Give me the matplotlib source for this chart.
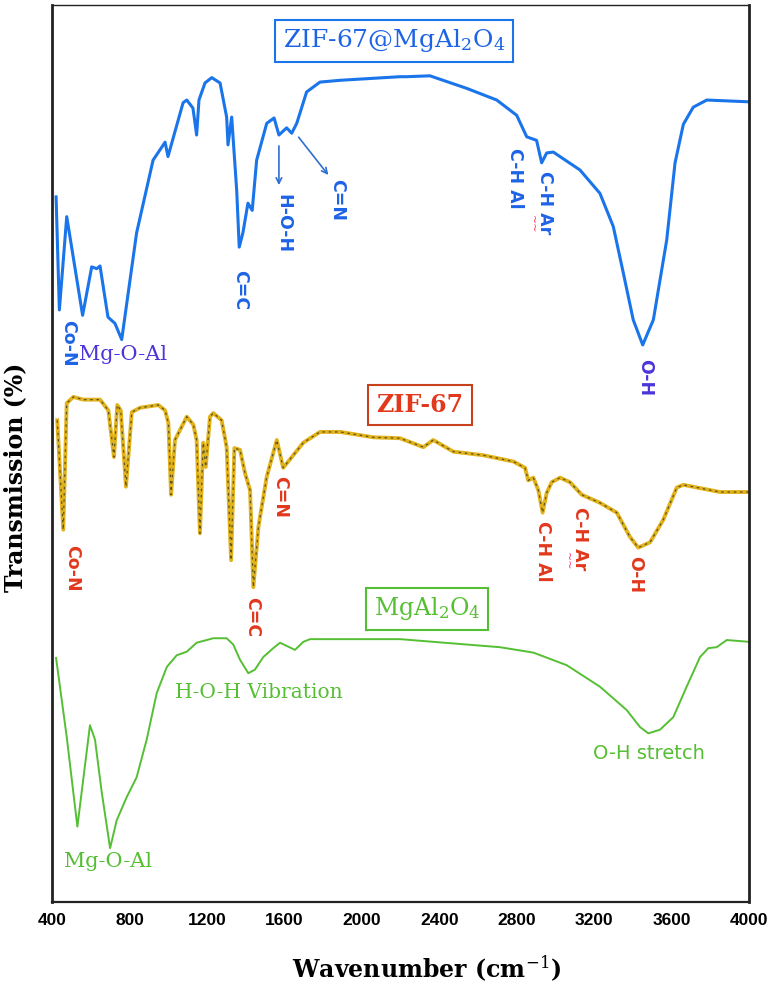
import numpy as np
import matplotlib.pyplot as plt

plt.rcParams['mathtext.fontset'] = 'dejavuserif'

# ZIF-67@MgAl2O4 (blue, top)
wn_comp = [421, 438, 476, 558, 605, 631, 648, 689, 725, 760, 837, 922, 984, 999, 1077, 1096,
           1128, 1147, 1159, 1190, 1225, 1268, 1302, 1309, 1328, 1354, 1367, 1386, 1412, 1434,
           1457, 1509, 1547, 1572, 1612, 1638, 1664, 1715, 1784, 1888, 2197, 2232, 2352, 2542,
           2697, 2800, 2852, 2903, 2929, 2955, 2989, 3127, 3230, 3299, 3351, 3402, 3451, 3506,
           3575, 3618, 3661, 3712, 3782, 4000]
t_comp = [78.6, 66.0, 76.4, 65.4, 70.8, 70.6, 70.9, 65.2, 64.5, 62.7, 74.6, 82.7, 84.7, 83.1, 89.1,
          89.4, 88.5, 85.5, 89.4, 91.3, 91.9, 91.3, 87.5, 84.4, 87.5, 79.3, 73.0, 74.6, 77.9, 77.1,
          82.7, 86.8, 87.4, 85.5, 86.3, 85.7, 86.8, 90.3, 91.4, 91.6, 92.0, 92.0, 92.1, 90.7,
          89.4, 87.7, 85.3, 84.9, 82.4, 83.5, 83.6, 81.6, 79.0, 75.3, 70.1, 64.9, 62.1, 64.9,
          73.8, 82.4, 86.7, 88.6, 89.4, 89.2]

# ZIF-67 (gold, middle)
wn_zif = [427, 458, 476, 510, 562, 648, 691, 720, 737, 755, 782, 812, 855, 949, 984, 1001, 1015,
          1035, 1096, 1130, 1147, 1164, 1181, 1194, 1216, 1233, 1276, 1302, 1325, 1342, 1371, 1397,
          1423, 1440, 1466, 1509, 1561, 1594, 1620, 1698, 1784, 1888, 2060, 2197, 2318, 2369,
          2473, 2628, 2783, 2843, 2860, 2886, 2912, 2934, 2955, 2981, 3024, 3075, 3136, 3230,
          3317, 3385, 3428, 3489, 3557, 3627, 3661, 3850, 4000]
t_zif = [53.7, 41.5, 55.6, 56.3, 56.0, 56.0, 54.8, 49.6, 55.4, 54.8, 46.3, 54.6, 55.1, 55.4, 54.8,
         53.4, 45.4, 51.5, 54.1, 53.2, 51.5, 41.1, 51.2, 48.5, 54.1, 54.5, 53.7, 50.7, 38.1, 50.6,
         50.4, 47.8, 45.9, 35.1, 41.8, 47.4, 51.5, 48.4, 49.1, 51.2, 52.4, 52.4, 51.8, 51.7,
         50.7, 51.5, 50.2, 49.8, 49.1, 48.4, 47.0, 47.3, 45.9, 43.4, 45.6, 46.8, 47.3, 46.8,
         45.4, 44.5, 43.4, 40.7, 39.5, 40.1, 42.6, 46.2, 46.5, 45.7, 45.7]

# MgAl2O4 (green, bottom)
wn_mg = [421, 476, 531, 596, 622, 657, 700, 734, 786, 837, 889, 941, 993, 1044, 1096, 1147, 1233,
         1302, 1336, 1371, 1414, 1448, 1491, 1543, 1578, 1655, 1698, 1733, 2060, 2197, 2369, 2714,
         2886, 3058, 3230, 3368, 3437, 3480, 3540, 3609, 3678, 3747, 3790, 3833, 3885, 4000]
t_mg = [27.2, 18.4, 8.4, 19.7, 18.1, 12.2, 6.0, 9.1, 11.7, 13.9, 18.1, 23.3, 26.2, 27.5, 27.9,
        28.9, 29.4, 29.4, 28.7, 27.0, 25.5, 25.9, 27.3, 28.3, 28.9, 28.1, 29.0, 29.3, 29.3, 29.3,
        29.0, 28.4, 27.8, 26.4, 24.0, 21.4, 19.5, 18.8, 19.2, 20.6, 24.0, 27.3, 28.3, 28.4, 29.2,
        29.0]

xticks = [400, 800, 1200, 1600, 2000, 2400, 2800, 3200, 3600, 4000]

blue = '#1a74ea'
blue_txt = '#1d63e6'
purple = '#4a35d8'
red = '#e2381c'
gold = '#e2b21c'
green = '#55bf33'

fig = plt.figure(figsize=(7.74, 9.89), dpi=100)
ax = fig.add_axes([0.0672, 0.088, 0.9005, 0.907])

ax.plot(wn_comp, t_comp, color=blue, lw=2.2)
ax.plot(wn_zif, t_zif, color=gold, lw=2.8)
ax.plot(wn_zif, t_zif, color='#5a5418', lw=0.9, dashes=(2, 3))
ax.plot(wn_mg, t_mg, color=green, lw=1.4)

ax.set_xlim(400, 4000)
ax.set_ylim(0, 100)
ax.set_xticks(xticks)
ax.set_xticklabels([str(v) for v in xticks], fontsize=12.5, fontweight='bold',
                   family='Liberation Sans')
ax.set_yticks([])
ax.tick_params(axis='x', length=0, pad=8)
for s in ax.spines.values():
    s.set_color('#222222')
ax.spines['left'].set_linewidth(2.0)
ax.spines['right'].set_linewidth(2.0)
ax.spines['bottom'].set_linewidth(1.6)
ax.spines['top'].set_linewidth(1.0)

ax.set_xlabel('Wavenumber (cm$^{-1}$)', fontsize=17, fontweight='bold', family='DejaVu Serif')
ax.set_ylabel('Transmission (%)', fontsize=17, fontweight='bold', family='DejaVu Serif')
ax.xaxis.set_label_coords(0.538, -0.058)
ax.yaxis.set_label_coords(-0.035, 0.473)

# boxed sample labels
ax.text(2166, 96.0, 'ZIF-67@MgAl$_2$O$_4$', color=blue_txt, fontsize=18, family='DejaVu Serif',
        ha='center', va='center',
        bbox=dict(boxstyle='square,pad=0.3', fc='white', ec=blue, lw=1.5))
ax.text(2301, 55.4, 'ZIF-67', color=red, fontsize=17, fontweight='bold', family='DejaVu Serif',
        ha='center', va='center',
        bbox=dict(boxstyle='square,pad=0.35', fc='white', ec='#c8401c', lw=1.5))
ax.text(2337, 32.7, 'MgAl$_2$O$_4$', color=green, fontsize=17, family='DejaVu Serif',
        ha='center', va='center',
        bbox=dict(boxstyle='square,pad=0.32', fc='white', ec=green, lw=1.5))

sans = dict(fontsize=12.5, fontweight='bold', family='DejaVu Sans', ha='center', va='center',
            rotation=270)
squig = dict(fontsize=8, color='#ff3a6e', ha='center', va='center', rotation=270,
             family='DejaVu Sans')

# top spectrum labels
ax.text(483, 62.3, 'Co-N', color=blue_txt, **sans)
ax.text(767, 61.0, 'Mg-O-Al', color=purple, fontsize=15, family='DejaVu Serif',
        ha='center', va='center')
ax.text(1371, 68.2, 'C=C', color=blue_txt, **sans)
ax.text(1593, 75.6, 'H-O-H', color=blue_txt, **sans)
ax.text(1872, 78.3, 'C=N', color=blue_txt, **sans)
ax.text(2791, 80.7, 'C-H Al', color=blue_txt, **sans)
ax.text(2946, 78.0, 'C-H Ar', color=blue_txt, **sans)
ax.text(2878, 75.6, '~~', **squig)
ax.text(3463, 58.5, 'O-H', color=purple, **sans)
ax.annotate('', xy=(1572, 79.6), xytext=(1572, 84.6),
            arrowprops=dict(arrowstyle='->', color='#2f6fd0', lw=1.2))
ax.annotate('', xy=(1836, 80.8), xytext=(1665, 85.5),
            arrowprops=dict(arrowstyle='->', color='#2f6fd0', lw=1.2))

# middle spectrum labels
ax.text(503, 37.2, 'Co-N', color=red, **sans)
ax.text(1433, 31.8, 'C=C', color=red, **sans)
ax.text(1578, 45.2, 'C=N', color=red, **sans)
ax.text(2936, 39.1, 'C-H Al', color=red, **sans)
ax.text(3127, 40.5, 'C-H Ar', color=red, **sans)
ax.text(3059, 38.0, '~~', **squig)
ax.text(3411, 36.5, 'O-H', color=red, **sans)

# bottom spectrum labels
ax.text(1469, 23.3, 'H-O-H Vibration', color=green, fontsize=14.5, family='DejaVu Serif',
        ha='center', va='center')
ax.text(689, 4.5, 'Mg-O-Al', color=green, fontsize=15, family='DejaVu Serif',
        ha='center', va='center')
ax.text(3484, 16.6, 'O-H stretch', color=green, fontsize=14, family='DejaVu Sans',
        ha='center', va='center')

fig.savefig('out.png', dpi=100)
